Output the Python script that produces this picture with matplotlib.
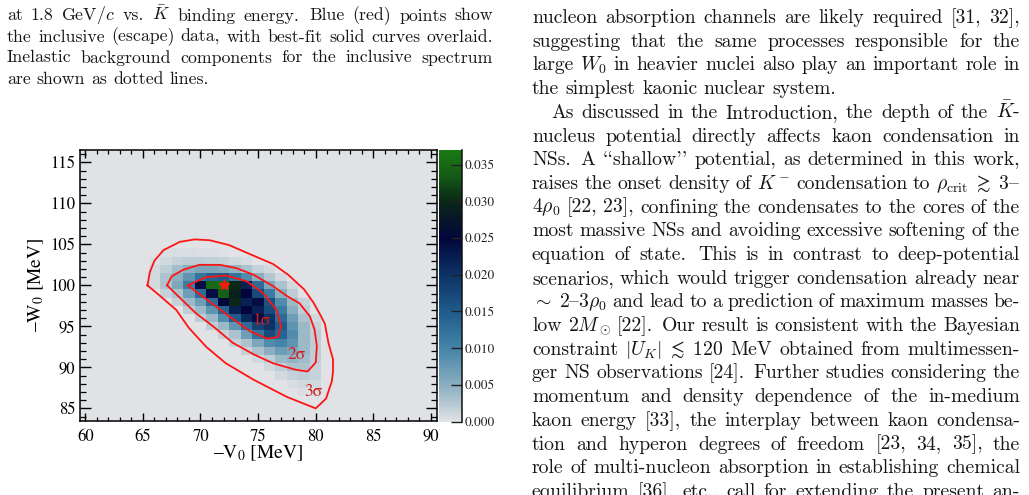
import matplotlib
matplotlib.use("Agg")
import matplotlib.pyplot as plt
import numpy as np
from matplotlib.colors import LinearSegmentedColormap, Normalize
from matplotlib.ticker import MultipleLocator

FIG_W, FIG_H = 1029, 495

# posterior of the K-bar nucleus potential, 1 MeV bins (values in units of 1e-3)
V0_EDGES = np.arange(59.5, 91.0, 1.0)
W0_EDGES = np.arange(83.5, 117.0, 1.0)
ROW_W0 = [104, 103, 102, 101, 100, 99, 98, 97, 96, 95, 94, 93, 92, 91, 90, 89, 88, 87]
ROW_V0_START = [67, 66, 66, 66, 66, 67, 68, 69, 70, 71, 72, 73, 74, 75, 76, 77, 78, 79]
ROW_VALUES = [
    [0.3, 0.5, 0.5, 0.4, 0.3, 0.2],
    [0.3, 1.0, 1.5, 2.0, 2.0, 1.8, 1.5, 1.0, 0.5],
    [0.8, 2.0, 3.5, 5.0, 6.0, 6.0, 5.5, 4.5, 3.0, 1.5, 0.8],
    [1.0, 3.0, 5.0, 8.0, 12, 14, 15, 12, 9, 5, 2.5, 1.0],
    [1.0, 3.0, 6.0, 11, 24, 35, 36, 30, 22, 13, 6, 3, 1],
    [1.5, 3, 7, 13, 24, 34, 29, 25, 17, 11, 5, 2],
    [1.5, 4, 7, 13, 25, 30, 22, 24, 16, 9, 4, 1.5],
    [2, 4, 8, 14, 22, 25, 22, 17, 11, 5, 2],
    [2, 4, 9, 15, 21, 24, 20, 13, 7, 3, 1],
    [2, 4, 8, 13, 18, 20, 15, 8, 4, 1.5],
    [1.5, 3, 7, 12, 17, 14, 9, 4, 2],
    [1.5, 3, 6, 9, 10, 8, 4, 2],
    [1.5, 3, 5, 7, 6, 4, 2],
    [1, 2, 4, 4.5, 3.5, 2],
    [1, 2, 3, 3, 1.5],
    [0.8, 1.5, 2, 1.5],
    [0.5, 1, 1],
    [0.4, 0.5],
]

# confidence contours (-V0, -W0) in MeV
SIGMA1_V0 = [68.9, 70.5, 72.2, 74.0, 75.4, 76.6, 77.0, 76.7, 75.8, 74.3, 72.5, 70.8, 68.9]
SIGMA1_W0 = [100.0, 101.0, 101.2, 100.5, 99.1, 97.0, 95.0, 93.7, 93.5, 94.4, 96.2, 98.0, 100.0]
SIGMA2_V0 = [67.1, 67.5, 68.5, 69.9, 71.7, 73.1, 74.6, 76.3, 77.5, 78.6, 79.5, 79.9, 80.1,
             80.0, 79.3, 78.3, 76.3, 74.6, 72.8, 71.1, 69.6, 68.2, 67.1]
SIGMA2_W0 = [100.0, 101.1, 101.9, 102.5, 102.5, 102.1, 101.3, 99.9, 98.7, 97.8, 96.2, 94.6, 92.6,
             90.6, 89.5, 89.7, 90.5, 91.6, 93.0, 95.0, 96.6, 98.5, 100.0]
SIGMA3_V0 = [65.4, 65.6, 66.0, 66.8, 68.2, 69.5, 70.8, 72.5, 74.3, 76.3, 77.6, 79.0, 79.8, 80.4,
             80.8, 81.1, 81.5, 81.5, 81.4, 80.9, 80.0, 77.5, 74.6, 72.2, 70.5, 69.0, 67.9, 66.5, 65.4]
SIGMA3_W0 = [100.0, 101.6, 103.0, 104.3, 105.3, 105.6, 105.5, 104.9, 103.8, 102.6, 101.3, 99.5,
             97.9, 96.4, 95.3, 93.0, 91.0, 89.5, 88.3, 86.2, 85.0, 86.4, 88.5, 90.5, 92.5, 94.8,
             97.0, 98.7, 100.0]
BEST_V0, BEST_W0 = 72.0, 100.0
SIGMA_LABELS = ["1σ", "2σ", "3σ"]
SIGMA_LABEL_V0 = [75.3, 78.35, 79.8]
SIGMA_LABEL_W0 = [95.7, 91.5, 87.0]

CBAR_TICKS = [0.0, 0.005, 0.010, 0.015, 0.020, 0.025, 0.030, 0.035]
CBAR_MAX = 0.037

CAPTION_LINES = [
    r"at 1.8 GeV/$c$ vs. $\bar{K}$ binding energy. Blue (red) points show",
    "the inclusive (escape) data, with best-fit solid curves overlaid.",
    "Inelastic background components for the inclusive spectrum",
    "are shown as dotted lines.",
]
BODY_LINES = [
    "nucleon absorption channels are likely required [31, 32],",
    "suggesting that the same processes responsible for the",
    "large $W_0$ in heavier nuclei also play an important role in",
    "the simplest kaonic nuclear system.",
    r"As discussed in the Introduction, the depth of the $\bar{K}$-",
    "nucleus potential directly affects kaon condensation in",
    "NSs. A ``shallow'' potential, as determined in this work,",
    r"raises the onset density of $K^-$ condensation to $\rho_\mathrm{crit}\;\gtrsim\;3$–",
    r"$4\rho_0$ [22, 23], confining the condensates to the cores of the",
    "most massive NSs and avoiding excessive softening of the",
    "equation of state. This is in contrast to deep-potential",
    "scenarios, which would trigger condensation already near",
    r"$\sim\;2$–$3\rho_0$ and lead to a prediction of maximum masses be-",
    r"low $2M_\odot$ [22]. Our result is consistent with the Bayesian",
    r"constraint $|U_K|\;\lesssim\;120$ MeV obtained from multimessen-",
    "ger NS observations [24]. Further studies considering the",
    "momentum and density dependence of the in-medium",
    "kaon energy [33], the interplay between kaon condensa-",
    "tion and hyperon degrees of freedom [23, 34, 35], the",
    "role of multi-nucleon absorption in establishing chemical",
    "equilibrium [36], etc., call for extending the present an-",
]
BODY_RAGGED = {3}
BODY_INDENT = {4}


def fx(px):
    return px / FIG_W


def fy(py):
    return 1.0 - py / FIG_H


def cm_text(s):
    # cmr10 keeps the TeX OT1 layout: the en dash sits in the '{' slot
    parts = s.split("$")
    for i in range(0, len(parts), 2):
        parts[i] = parts[i].replace("–", "{")
    return "$".join(parts)


def set_line(fig, renderer, line, x0, x1, baseline, size, justify, indent=0.0):
    words = line.split(" ")
    texts = [
        fig.text(0, fy(baseline), cm_text(w), fontsize=size, family="cmr10",
                 math_fontfamily="cm", va="baseline", ha="left", color="#161616")
        for w in words
    ]
    widths = [t.get_window_extent(renderer).width for t in texts]
    weights = [1.4 if (w.endswith(".") and w not in ("vs.",)) else 1.0 for w in words[:-1]]
    start = x0 + indent
    if justify and len(words) > 1:
        unit = (x1 - start - sum(widths)) / sum(weights)
    else:
        unit = size * 100 / 72 * 0.333
    x = start
    for k, t in enumerate(texts):
        t.set_x(fx(x))
        x += widths[k]
        if k < len(weights):
            x += unit * weights[k]


def posterior_grid():
    grid = np.zeros((len(W0_EDGES) - 1, len(V0_EDGES) - 1))
    for w0, start, vals in zip(ROW_W0, ROW_V0_START, ROW_VALUES):
        i = int(w0 - (W0_EDGES[0] + 0.5))
        j = int(start - (V0_EDGES[0] + 0.5))
        grid[i, j:j + len(vals)] = np.asarray(vals) * 1e-3
    return grid


def main():
    plt.rcParams["font.family"] = "STIXGeneral"
    plt.rcParams["mathtext.fontset"] = "stix"

    fig = plt.figure(figsize=(FIG_W / 100, FIG_H / 100), dpi=100)
    renderer = fig.canvas.get_renderer()

    cmap = LinearSegmentedColormap.from_list("kbar", [
        (0.0, "#e0e2e5"),
        (0.0025 / CBAR_MAX, "#b3c7d1"),
        (0.005 / CBAR_MAX, "#8aaec0"),
        (0.010 / CBAR_MAX, "#4384a8"),
        (0.015 / CBAR_MAX, "#1f5b8b"),
        (0.020 / CBAR_MAX, "#0c3265"),
        (0.025 / CBAR_MAX, "#02063c"),
        (0.030 / CBAR_MAX, "#0b2616"),
        (0.0335 / CBAR_MAX, "#155a16"),
        (1.0, "#1b7a14"),
    ])
    norm = Normalize(vmin=0.0, vmax=CBAR_MAX)

    ax = fig.add_axes([fx(79.5), fy(420.7), fx(436.7) - fx(79.5), fy(150) - fy(420.7)])
    mesh = ax.pcolormesh(V0_EDGES, W0_EDGES, posterior_grid(), cmap=cmap, norm=norm,
                         shading="flat")
    red = "#ff1414"
    for vx, wy in ((SIGMA1_V0, SIGMA1_W0), (SIGMA2_V0, SIGMA2_W0), (SIGMA3_V0, SIGMA3_W0)):
        ax.plot(vx, wy, color=red, lw=1.3)
    ax.plot(BEST_V0, BEST_W0, marker="*", color=red, ms=8, mec=red)
    for lab, vx, wy in zip(SIGMA_LABELS, SIGMA_LABEL_V0, SIGMA_LABEL_W0):
        ax.text(vx, wy, lab, color="#d21c1c", fontsize=12.5, ha="center", va="center")

    ax.set_xlim(V0_EDGES[0], V0_EDGES[-1])
    ax.set_ylim(W0_EDGES[0], W0_EDGES[-1])
    ax.xaxis.set_major_locator(MultipleLocator(5))
    ax.xaxis.set_minor_locator(MultipleLocator(1))
    ax.yaxis.set_major_locator(MultipleLocator(5))
    ax.yaxis.set_minor_locator(MultipleLocator(1))
    ax.tick_params(which="both", direction="in", top=True, right=True, labelsize=12)
    ax.tick_params(axis="x", which="major", length=6, width=1, pad=6)
    ax.tick_params(axis="x", which="minor", length=3, width=0.9)
    ax.tick_params(axis="y", which="major", length=8, width=1, pad=3)
    ax.tick_params(axis="y", which="minor", length=4, width=0.9)
    for sp in ax.spines.values():
        sp.set_linewidth(1.1)

    fig.text(fx(258), fy(453), "–V$_0$ [MeV]", fontsize=14, ha="center", va="center")
    fig.text(fx(36), fy(285), "–W$_0$ [MeV]", fontsize=14, ha="center", va="center",
             rotation=90)

    cax = fig.add_axes([fx(438.7), fy(421.5), fx(461.7) - fx(438.7), fy(150) - fy(421.5)])
    cb = fig.colorbar(mesh, cax=cax)
    cb.outline.set_visible(False)
    cb.set_ticks(CBAR_TICKS)
    cb.set_ticklabels([f"{t:.3f}" for t in CBAR_TICKS])
    cax.tick_params(direction="in", length=8, width=1, labelsize=9.5, pad=2, colors="#222222")
    cax.minorticks_off()
    cax.plot([1, 1], [0, 1], transform=cax.transAxes, color="#111111", lw=1.1, clip_on=False)

    # surrounding page text
    for k, line in enumerate(CAPTION_LINES):
        set_line(fig, renderer, line, 7, 493, 20.5 + 21.0 * k, 12.8,
                 justify=(k < len(CAPTION_LINES) - 1))
    for k, line in enumerate(BODY_LINES):
        set_line(fig, renderer, line, 532, 1020, 23.0 + 23.7 * k, 14.2,
                 justify=(k not in BODY_RAGGED), indent=19.0 if k in BODY_INDENT else 0.0)

    fig.savefig("out.png", dpi=100)
    plt.close(fig)


if __name__ == "__main__":
    main()
